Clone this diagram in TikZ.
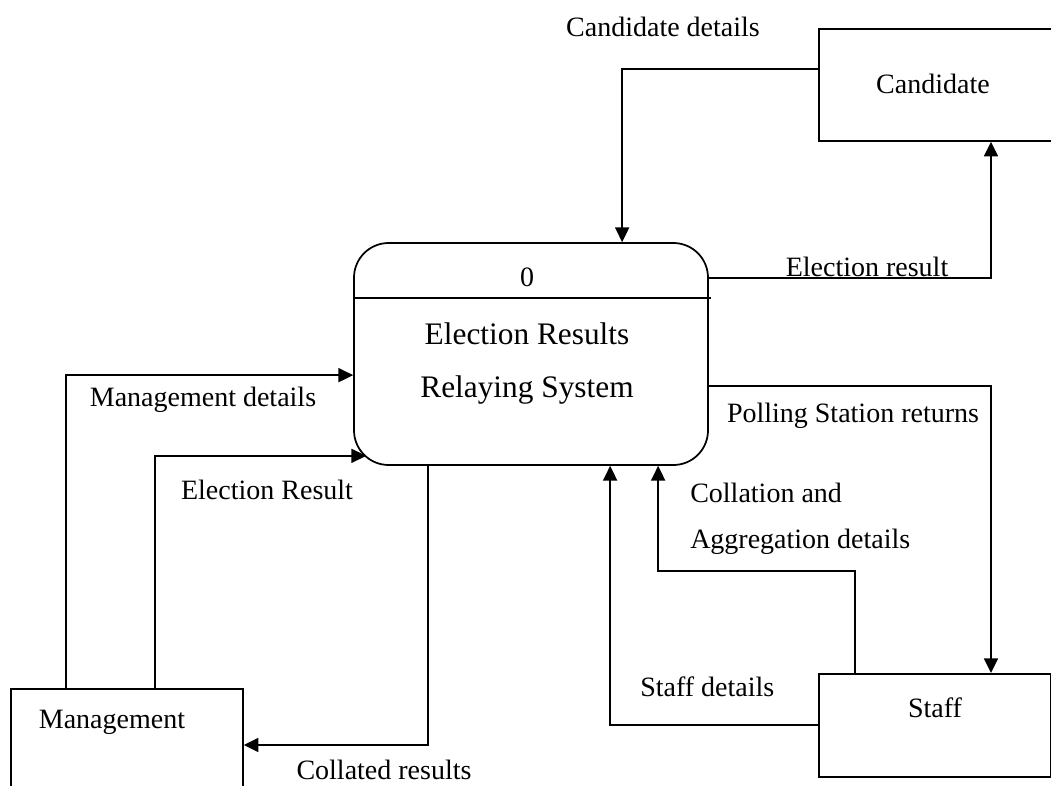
\documentclass[tikz,border=0pt]{standalone}
\usepackage{fontspec}
\setmainfont{Liberation Serif}
\usetikzlibrary{arrows.meta,calc}

\tikzset{
  entity/.style={draw, line width=1.3pt, rectangle, inner sep=0pt},
  process/.style={draw, line width=1.3pt, rounded corners=26pt, inner sep=0pt,
    minimum width=354*0.75pt, minimum height=222*0.75pt},
  flow/.style={line width=1.3pt, -{Triangle[length=11pt, width=10.5pt]}},
  lbl/.style={font=\fontsize{21}{25}\selectfont, inner sep=0pt},
  big/.style={font=\fontsize{23.5}{28}\selectfont, inner sep=0pt}
}

\begin{document}
\begin{tikzpicture}[x=0.75pt, y=-0.75pt]
  \useasboundingbox (0,0) rectangle (1051,786);
  \clip (0,0) rectangle (1051,786);

  % central process
  \node[process] (proc) at (531,354) {};
  \draw[line width=1pt] ($(proc.north west)+(0,56)$) -- ($(proc.north east)+(2,56)$);
  \node[lbl] (pnum) at (527,277) {0};
  \node[big] (ptitle1) at (527,334) {Election Results};
  \node[big] (ptitle2) at (527,390) {Relaying System};

  % external entities
  \node[entity, anchor=north west, minimum width=236*0.75pt, minimum height=112*0.75pt] (cand) at (818,28) {};
  \node[lbl] (candtxt) at (933,84) {Candidate};
  \node[entity, anchor=north west, minimum width=232*0.75pt, minimum height=103*0.75pt] (staff) at (818,673) {};
  \node[lbl] (stafftxt) at (935,708) {Staff};
  \node[entity, anchor=north west, minimum width=232*0.75pt, minimum height=120*0.75pt] (mgmt) at (10,688) {};
  \node[lbl] (mgmttxt) at (112,722) {Management};

  % point where the lower arrow meets the rounded corner
  \coordinate (corner) at ($(proc.south west)+(13,-10)$);

  % data flows
  \draw[flow] ($(cand.north west)+(0,41)$) -| ($(proc.north west)+(269,0)$);
  \draw[flow] ($(proc.north east)+(0,36)$) -| ($(cand.south west)+(173,0)$);
  \draw[flow] ($(proc.north east)+(0,144)$) -| ($(staff.north west)+(173,0)$);
  \draw[flow] ($(staff.north west)+(37,0)$) -- ++(0,-102) -| ($(proc.south west)+(305,0)$);
  \draw[flow] ($(staff.north west)+(0,52)$) -| ($(proc.south west)+(257,0)$);
  \draw[flow] ($(proc.south west)+(75,0)$) |- ($(mgmt.north east)+(0,57)$);
  \draw[flow] ($(mgmt.north west)+(56,0)$) |- ($(proc.north west)+(0,133)$);
  \draw[flow] ($(mgmt.north west)+(145,0)$) |- (corner);

  % flow labels
  \node[lbl] (l1) at (663,27) {Candidate details};
  \node[lbl] (l2) at (867,267) {Election result};
  \node[lbl] (l3) at (853,416) {Polling Station returns};
  \node[lbl, anchor=west] (l4) at (690,493) {Collation and};
  \node[lbl, anchor=west] (l5) at (690,542) {Aggregation details};
  \node[lbl, anchor=west] (l6) at (640,687) {Staff details};
  \node[lbl] (l7) at (203,400) {Management details};
  \node[lbl] (l8) at (267,490) {Election Result};
  \node[lbl] (l9) at (384,770) {Collated results};
\end{tikzpicture}
\end{document}
